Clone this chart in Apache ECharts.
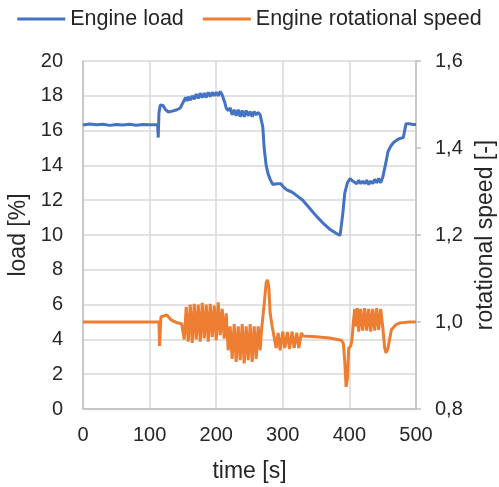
<!DOCTYPE html>
<html>
<head>
<meta charset="utf-8">
<script src="https://cdn.jsdelivr.net/npm/echarts@6/dist/echarts.min.js"></script>
<style>
  html, body { margin: 0; padding: 0; background: #ffffff; overflow: hidden; }
  #chart { width: 499px; height: 487px; }
</style>
</head>
<body>
<div id="chart"></div>
<script>
// Legend / series names
const seriesNames = ['Engine load', 'Engine rotational speed'];

// Engine load [%] over time [s]: [time, load]
const loadPoints = [
  [0, 16.32], [10, 16.38], [20, 16.33], [30, 16.36], [40, 16.3], [50, 16.35],
  [60, 16.32], [70, 16.37], [80, 16.31], [90, 16.35], [100, 16.33], [112, 16.34],
  [113, 15.6], [114, 17.0], [116, 17.47], [120, 17.45], [124, 17.2], [128, 17.07],
  [134, 17.12], [141, 17.2], [146, 17.3], [148, 17.4], [150, 17.6], [152, 17.75],
  [154, 17.9], [156, 17.7], [158, 17.95], [161, 17.75], [164, 18.0], [167, 17.8],
  [170, 18.1], [173, 17.85], [176, 18.15], [179, 17.9], [182, 18.15], [185, 17.9],
  [188, 18.2], [191, 17.95], [194, 18.2], [197, 18.0], [200, 18.2], [203, 18.0],
  [206, 18.25], [209, 18.05], [211, 18.1], [213, 17.6], [215, 17.3], [218, 17.15],
  [221, 17.3], [224, 16.9], [227, 17.2], [230, 16.85], [233, 17.2], [236, 16.8],
  [239, 17.15], [242, 16.8], [245, 17.15], [248, 16.85], [251, 17.1], [254, 16.8],
  [257, 17.1], [260, 16.9], [263, 17.05], [266, 16.9], [268, 16.8], [270, 16.2],
  [272, 15.0], [275, 14.0], [278, 13.5], [281, 13.2], [285, 12.9], [288, 12.85],
  [291, 12.95], [294, 12.85], [297, 12.95], [300, 12.8], [303, 12.85], [306, 12.6],
  [309, 12.7], [312, 12.5], [315, 12.55], [318, 12.35], [321, 12.4], [330, 12.0],
  [340, 11.55], [350, 11.1], [360, 10.7], [370, 10.35], [380, 10.1], [386, 9.98],
  [388, 10.0], [390, 11.2], [393, 12.4], [397, 13.0], [401, 13.25], [405, 13.1],
  [408, 13.2], [411, 12.95], [414, 13.15], [417, 12.95], [420, 13.1], [423, 12.95],
  [426, 13.15], [429, 12.9], [432, 13.1], [435, 12.95], [438, 13.2], [441, 13.0],
  [444, 13.25], [447, 13.0], [450, 13.3], [452, 13.4], [455, 14.2], [458, 14.8],
  [462, 15.1], [466, 15.3], [471, 15.45], [476, 15.55], [481, 15.6], [484, 15.65],
  [485, 16.4], [490, 16.4], [495, 16.35], [500, 16.35]
];

// Relative engine rotational speed [-] over time [s]: [time, speed]
const speedPoints = [
  [0, 1.0], [50, 1.0], [100, 1.0], [114, 1.0], [115, 0.945], [116, 0.945],
  [117, 1.012], [120, 1.008], [126, 1.016], [132, 1.005], [140, 0.999], [148, 0.996],
  [150, 0.993], [152, 0.96], [155, 1.035], [158, 0.955], [161, 1.04], [164, 0.952],
  [167, 1.042], [170, 0.96], [173, 1.04], [176, 0.955], [179, 1.044], [182, 0.962],
  [185, 1.04], [188, 0.955], [191, 1.042], [194, 0.965], [197, 1.038], [200, 0.958],
  [203, 1.045], [206, 0.97], [209, 1.03], [212, 0.962], [215, 1.02], [218, 0.935],
  [221, 0.99], [224, 0.915], [227, 0.995], [230, 0.908], [233, 0.99], [236, 0.912],
  [239, 0.995], [242, 0.905], [245, 0.99], [248, 0.912], [251, 0.995], [254, 0.908],
  [257, 0.99], [260, 0.915], [263, 0.99], [266, 0.935], [268, 0.98], [272, 1.04],
  [275, 1.09], [277, 1.097], [279, 1.08], [281, 1.02], [284, 0.99], [287, 0.99],
  [290, 0.94], [293, 0.975], [296, 0.935], [300, 0.978], [303, 0.94], [307, 0.977],
  [310, 0.938], [314, 0.978], [317, 0.94], [321, 0.975], [324, 0.94], [328, 0.975],
  [330, 0.968], [350, 0.966], [370, 0.963], [388, 0.958], [391, 0.95], [393, 0.91],
  [395, 0.851], [397, 0.87], [399, 0.94], [402, 0.945], [404, 0.96], [406, 1.0],
  [408, 1.03], [410, 0.99], [412, 1.032], [414, 0.978], [417, 1.03], [420, 0.98],
  [423, 1.032], [426, 0.98], [429, 1.03], [432, 0.978], [435, 1.03], [438, 0.98],
  [441, 1.032], [444, 0.982], [447, 1.03], [450, 0.99], [453, 0.94], [455, 0.929],
  [458, 0.94], [463, 0.982], [470, 0.994], [476, 0.998], [490, 1.0], [500, 1.0]
];

// Axis ranges and tick steps
const timeTicks = [0, 500, 100];
const loadTicks = [0, 20, 2];
const speedTicks = [0.8, 1.6, 0.2];

const font = 'Liberation Sans, Arial, sans-serif';
const textColor = '#262626';
const gridColor = '#d9d9d9';
const axisColor = '#bfbfbf';

const chart = echarts.init(document.getElementById('chart'), null, { renderer: 'canvas' });

chart.setOption({
  animation: false,
  backgroundColor: '#ffffff',
  textStyle: { fontFamily: font },
  legend: {
    top: 3,
    left: 'center',
    icon: 'rect',
    itemWidth: 48,
    itemHeight: 3,
    itemGap: 19,
    textStyle: { fontSize: 21.5, color: textColor, fontFamily: font },
    data: seriesNames
  },
  grid: {
    left: 83, right: 83, top: 61, bottom: 78,
    containLabel: false,
    outerBoundsMode: 'none'
  },
  xAxis: {
    type: 'value',
    min: timeTicks[0], max: timeTicks[1], interval: timeTicks[2],
    name: 'time [s]',
    nameLocation: 'middle',
    nameGap: 51,
    nameTextStyle: { fontSize: 23, color: textColor, fontFamily: font },
    axisLine: { show: true, lineStyle: { color: axisColor, width: 1.5 } },
    axisTick: { show: false },
    axisLabel: { fontSize: 20, color: textColor, margin: 16, fontFamily: font },
    splitLine: { show: true, lineStyle: { color: gridColor, width: 1.5 } }
  },
  yAxis: [
    {
      type: 'value',
      position: 'left',
      min: loadTicks[0], max: loadTicks[1], interval: loadTicks[2],
      name: 'load [%]',
      nameLocation: 'middle',
      nameGap: 52,
      nameRotate: 90,
      nameTextStyle: { fontSize: 23, color: textColor, fontFamily: font },
      axisLine: { show: true, lineStyle: { color: axisColor, width: 1.5 } },
      axisTick: { show: false },
      axisLabel: { fontSize: 20, color: textColor, margin: 20, fontFamily: font },
      splitLine: { show: true, lineStyle: { color: gridColor, width: 1.5 } }
    },
    {
      type: 'value',
      position: 'right',
      min: speedTicks[0], max: speedTicks[1], interval: speedTicks[2],
      name: 'rotational speed [-]',
      nameLocation: 'middle',
      nameGap: 57,
      nameRotate: 90,
      nameTextStyle: { fontSize: 23, color: textColor, fontFamily: font },
      axisLine: { show: true, lineStyle: { color: axisColor, width: 1.5 } },
      axisTick: { show: true, inside: false, length: 5, lineStyle: { color: axisColor, width: 1.5 } },
      axisLabel: {
        fontSize: 20, color: textColor, margin: 19, fontFamily: font,
        formatter: v => v.toFixed(1).replace('.', ',')
      },
      splitLine: { show: false }
    }
  ],
  series: [
    {
      name: seriesNames[0],
      type: 'line',
      yAxisIndex: 0,
      data: loadPoints,
      showSymbol: false,
      color: '#4472C4',
      lineStyle: { width: 3, color: '#4472C4' }
    },
    {
      name: seriesNames[1],
      type: 'line',
      yAxisIndex: 1,
      data: speedPoints,
      showSymbol: false,
      color: '#ED7D31',
      lineStyle: { width: 3, color: '#ED7D31' }
    }
  ]
});
</script>
</body>
</html>
